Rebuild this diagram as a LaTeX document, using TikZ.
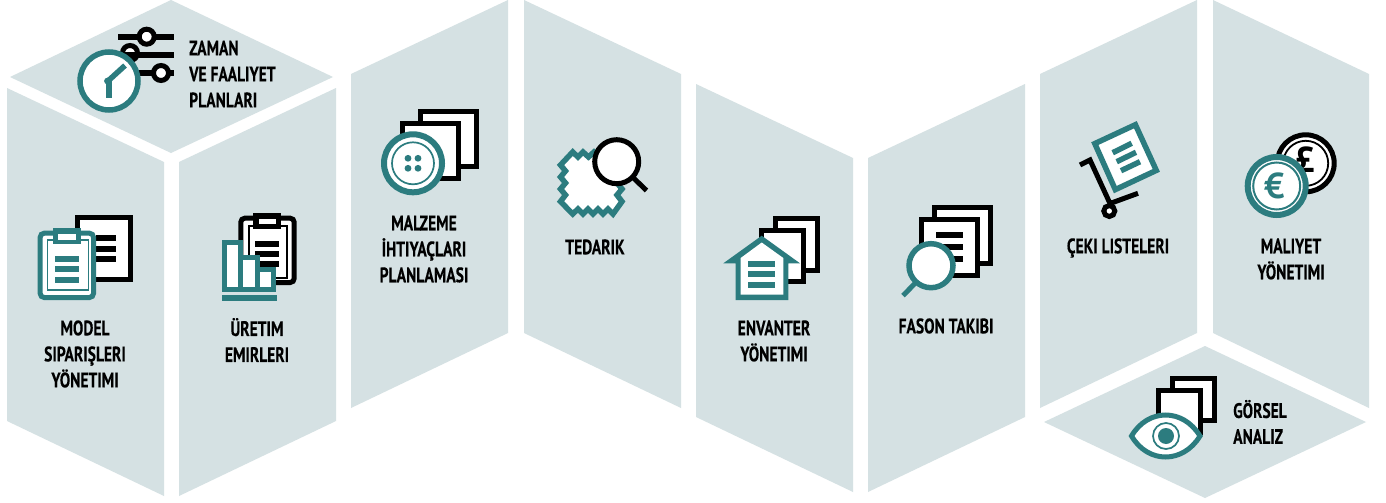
\documentclass[tikz,border=0pt]{standalone}
\usepackage{fontspec}
\setmainfont{PT Sans}[BoldFont={PT Sans Bold},BoldFeatures={FakeStretch=0.74,FakeBold=0.25}]
\newfontfamily\coinfont{PT Sans Bold}
\definecolor{panel}{RGB}{213,225,227}
\definecolor{teal}{RGB}{44,124,127}
\newcommand{\paperbox}[4]{\draw[black,line width=5pt,fill=white] ({#1+2.5},{#2+2.5}) rectangle ({#3-2.5},{#4-2.5});}
\tikzset{
  panelshape/.style={fill=panel,draw=none},
  lbl/.style={font=\bfseries\fontsize{21}{26}\selectfont,align=center,inner sep=0pt,text=black},
  lbll/.style={lbl,align=left,anchor=west},
  tealline/.style={draw=teal,line width=5pt},
  blackline/.style={draw=black,line width=5pt},
  coinsign/.style={font=\coinfont\fontsize{36}{36}\selectfont,inner sep=0pt},
}
\begin{document}
\begin{tikzpicture}[x=1pt,y=-1pt,line join=miter]
\useasboundingbox (0,0) rectangle (1386,503);
\fill[white] (0,0) rectangle (1386,503);
% panels
\fill[panelshape] (171,0)--(333,77)--(171,153)--(10,77)--cycle;
\fill[panelshape] (7,88)--(164,162)--(164,496)--(7,421)--cycle;
\fill[panelshape] (179,162)--(336,88)--(336,421)--(179,496)--cycle;
\fill[panelshape] (351,74)--(508,0)--(508,333)--(351,408)--cycle;
\fill[panelshape] (524,0)--(681,74)--(681,408)--(524,333)--cycle;
\fill[panelshape] (696,84)--(853,158)--(853,492)--(696,417)--cycle;
\fill[panelshape] (868,158)--(1025,84)--(1025,417)--(868,492)--cycle;
\fill[panelshape] (1040,74)--(1197,0)--(1197,333)--(1040,408)--cycle;
\fill[panelshape] (1213,0)--(1369,74)--(1369,408)--(1213,333)--cycle;
\fill[panelshape] (1205,346)--(1366,422)--(1205,498)--(1044,422)--cycle;
% clock + sliders
\fill (118,34) rectangle (174,39.7);
\fill (125,70.3) rectangle (174,76);
\draw[black,line width=5pt,fill=white] (146.7,36.7) circle (7.5);
\draw[black,line width=5pt,fill=white] (130,53) circle (7.5);
\fill[black] (125,52) rectangle (174,57.7);
\draw[black,line width=5pt,fill=white] (161,73) circle (7.5);
\draw[tealline,line width=5.5pt,fill=white] (109,81) circle (29);
\draw[tealline,line width=5.5pt] (125,65.5)--(108,81);
\draw[tealline,line width=5.5pt] (109,81)--(109,98);
\fill[teal] (107.5,81) circle (3.4);
% model icon
\paperbox{75}{215}{133.3}{281.7}
\fill (96,235) rectangle (116,240.7);
\fill (96,246) rectangle (116,251.7);
\fill (96,256) rectangle (116,261.7);
\draw[tealline,fill=white,rounded corners=4pt] (40.2,233.2) rectangle (93.5,297.5);
\draw[teal,line width=1.8pt] (47.5,240) rectangle (88.5,290);
\fill[teal] (53.3,227.7) rectangle (80.7,244);
\fill[white] (58,233.5) rectangle (76,239.5);
\fill[teal] (55,256) rectangle (79,261.7);
\fill[teal] (55,266) rectangle (79,271.7);
\fill[teal] (55,277) rectangle (79,282.7);
% uretim icon
\draw[blackline,fill=white,rounded corners=4pt] (240.8,218.2) rectangle (294.2,282.5);
\draw[black,line width=1.8pt] (249,226) rectangle (287,278);
\fill (253.3,212.7) rectangle (281,229.3);
\fill[white] (259,218.5) rectangle (275.5,224);
\fill (255,241) rectangle (279,246.7);
\fill (255,251) rectangle (279,256.7);
\fill (255,261) rectangle (279,266.7);
\draw[tealline,fill=white] (224.5,242.5) rectangle (240.8,289.2);
\draw[tealline,fill=white] (240.8,257.5) rectangle (257.5,289.2);
\draw[tealline,fill=white] (257.5,269.5) rectangle (273.5,289.2);
\fill[teal] (222,295) rectangle (277,300.7);
% malzeme icon
\paperbox{418.3}{109}{479}{169.3}
\paperbox{400}{120.7}{460.7}{181}
\draw[teal,line width=6pt,fill=white] (413,163.3) circle (29);
\draw[teal,line width=1.7pt] (413,163.3) circle (21);
\foreach \dx/\dy in {-5/-5,5/-5,-5/5,5/5}{\fill[teal] (413+\dx,163.3+\dy) circle (3.4);}
% tedarik icon
\draw[teal,line width=5.5pt,fill=white,miter limit=10]
 (572.7,152)--(578,157)--(583,152)--(588.5,157)--(594,152)--(599.5,157)--(605,152)--(610.5,157)--(616,152)
 --(622,165)--(617,171)--(622,177)--(617,183)--(622,189)--(617,195)--(622,201.5)
 --(613,214)--(608,209)--(603,214)--(598,209)--(593,214)--(588,209)--(583,214)--(578,209)--(572.7,214)
 --(560.5,201.5)--(565.5,195)--(560.5,189)--(565.5,183)--(560.5,177)--(565.5,171)--(560.5,165)--cycle;
\draw[black,line width=5pt,fill=white] (616.7,161.7) circle (22);
\draw[blackline,line cap=butt] (632.5,177)--(646.5,190.5);
% envanter icon
\paperbox{772.7}{216}{820}{272.7}
\paperbox{758.7}{228.3}{806}{284.3}
\fill[teal] (761.7,235.7)--(800,263.3)--(788.3,263.3)--(788.3,300)--(735.7,300)--(735.7,263.3)--(723.3,263.3)--cycle;
\fill[white] (761.7,242.5)--(783.3,258)--(783.3,294.7)--(740.7,294.7)--(740.7,258)--cycle;
\fill[teal] (748,261) rectangle (775,266.7);
\fill[teal] (748,271.3) rectangle (775,277);
\fill[teal] (748,282) rectangle (775,287.7);
% fason icon
\paperbox{932}{205}{992.7}{265.7}
\paperbox{919.3}{217}{980}{277.7}
\fill (936,232) rectangle (963,237.7);
\fill (936,244) rectangle (963,249.7);
\fill (936,256) rectangle (963,261.7);
\draw[teal,line width=5.5pt,fill=white] (931,265.7) circle (22);
\draw[tealline] (915,283.3)--(903,295.7);
% ceki icon
\draw[blackline,line join=miter] (1080,165)--(1090,160)--(1110,203.5)--(1138,193.3);
\draw[black,line width=5pt,fill=white] (1109.3,211) circle (5.5);
\draw[teal,line width=5.5pt,fill=white] (1094.8,143.6)--(1135.4,124.7)--(1156.3,170.4)--(1115.3,189.6)--cycle;
\draw[teal,line width=5.5pt] (1112.7,152.7)--(1131.7,143.3);
\draw[teal,line width=5.5pt] (1116.7,161.7)--(1136,152.3);
\draw[teal,line width=5.5pt] (1121,170.7)--(1140,161.7);
% maliyet icon
\draw[black,line width=5pt,fill=white] (1305.7,163.3) circle (28.5);
\draw[black,line width=1.8pt] (1305.7,163.3) circle (22.5);
\node[coinsign] (pound) at (1305,160) {£};
\draw[teal,line width=6pt,fill=white] (1276.7,186) circle (29);
\draw[teal,line width=2pt] (1276.7,186) circle (23.5);
\node[coinsign,text=teal] (euro) at (1274.3,186) {€};
% gorsel icon
\paperbox{1170}{376}{1216.7}{423.3}
\paperbox{1156}{388.3}{1203.3}{435}
\draw[tealline,fill=white] (1131.5,436) .. controls (1148,408) and (1183,408) .. (1200,436) .. controls (1183,464) and (1148,464) .. (1131.5,436) -- cycle;
\draw[teal,line width=1.7pt] (1166,436) circle (13);
\fill[teal] (1166,436) circle (8);
% labels
\node[lbll] (t1) at (189,74) {ZAMAN\\VE FAALIYET\\PLANLARI};
\node[lbl] (t2) at (85,354) {MODEL\\SIPARIŞLERI\\YÖNETIMI};
\node[lbl] (t3) at (257,340) {ÜRETIM\\EMIRLERI};
\node[lbl] (t4) at (424,249) {MALZEME\\İHTIYAÇLARI\\PLANLAMASI};
\node[lbl] (t5) at (595,247) {TEDARIK};
\node[lbl] (t6) at (774,341) {ENVANTER\\YÖNETIMI};
\node[lbl] (t7) at (946,326) {FASON TAKIBI};
\node[lbl] (t8) at (1118,248) {ÇEKI LISTELERI};
\node[lbl] (t9) at (1291,259) {MALIYET\\YÖNETIMI};
\node[lbll] (t10) at (1233,422) {GÖRSEL\\ANALIZ};
\end{tikzpicture}
\end{document}
